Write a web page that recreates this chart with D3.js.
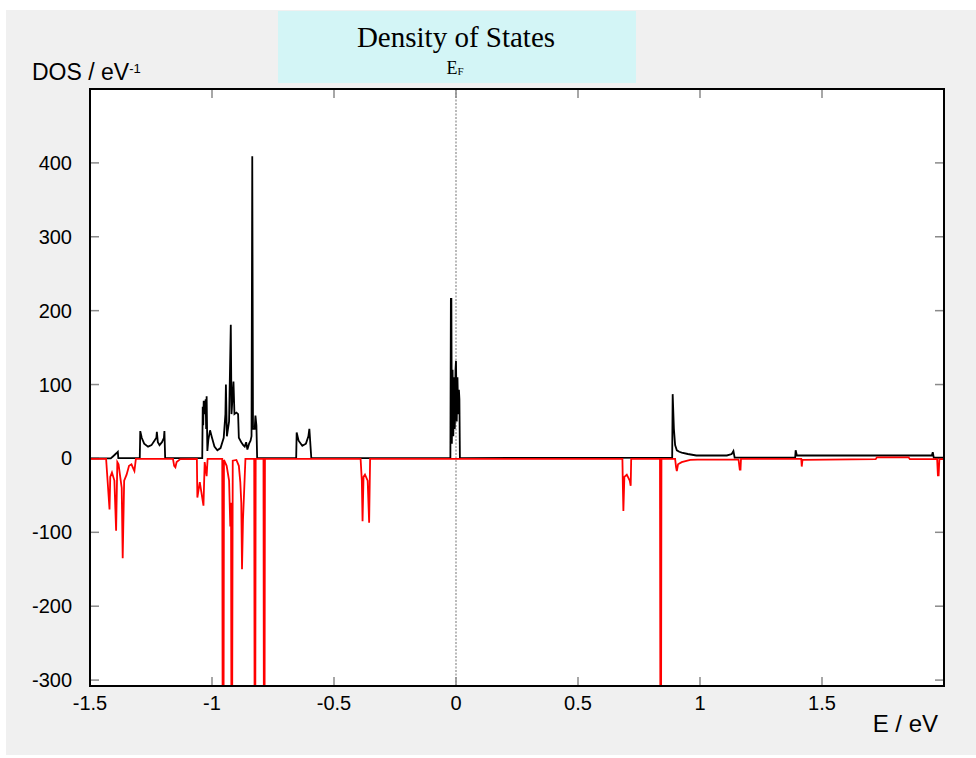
<!doctype html>
<meta charset='utf-8'>
<style>
  body { margin: 0; background: #fff; }
  text { font-family: 'Liberation Sans', Arial, sans-serif; }
</style>
<body>
<script src='https://cdn.jsdelivr.net/npm/d3@7/dist/d3.min.js'></script>
<script>

// spin-up DOS (black, positive)
var upE = [-1.500, -1.415, -1.405, -1.392, -1.386, -1.384,
  -1.296, -1.294, -1.288, -1.278, -1.262, -1.248, -1.236, -1.228, -1.226, -1.222, -1.215, -1.205, -1.197, -1.195, -1.192,
  -1.040, -1.038, -1.036, -1.034, -1.030, -1.026, -1.024, -1.022, -1.019, -1.015, -1.008, -1.000, -0.990, -0.978, -0.965, -0.952, -0.945,
  -0.943, -0.939, -0.930, -0.923, -0.920, -0.912, -0.908, -0.900, -0.893, -0.890, -0.880, -0.872, -0.866, -0.860, -0.855,
  -0.848, -0.842, -0.838, -0.835, -0.832, -0.825, -0.822, -0.818, -0.815,
  -0.655, -0.653, -0.645, -0.630, -0.615, -0.605, -0.601, -0.593,
  -0.023, -0.021, -0.019, -0.017, -0.014, -0.011, -0.008, -0.005, -0.002, 0.000, 0.003, 0.006, 0.009, 0.012, 0.014, 0.016,
  0.886, 0.888, 0.893, 0.898, 0.905, 0.915, 0.925, 0.950, 0.985, 1.050, 1.110, 1.130, 1.137, 1.142,
  1.390, 1.392, 1.397, 1.950, 1.954, 1.958, 2.000];
var upDos = [0, 0, 3, 7, 9, 0.5,
  0.5, 37, 28, 20, 16, 18, 24, 28, 36, 22, 18, 22, 28, 37, 0.5,
  0.5, 70, 45, 78, 60, 80, 40, 84, 10, 25, 38, 28, 16, 11, 14, 28, 60,
  100, 30, 50, 181, 60, 104, 60, 62, 60, 28, 22, 18, 16, 22, 12,
  20, 24, 30, 409, 40, 40, 58, 45, 0.5,
  0.5, 35, 24, 17, 20, 30, 40, 0.5,
  0.5, 216, 216, 20, 120, 30, 110, 40, 120, 132, 50, 110, 60, 93, 80, 0.5,
  1, 87, 40, 18, 11, 9, 8, 6, 4, 4, 4, 6, 10, 1,
  1, 11, 4, 4, 8.5, 1, 1];

// spin-down DOS (red, negative)
var dnE = [-1.500, -1.434, -1.430, -1.420, -1.417, -1.410, -1.400, -1.393, -1.388, -1.383, -1.370, -1.366, -1.360, -1.350,
  -1.340, -1.330, -1.322, -1.318, -1.312,
  -1.160, -1.155, -1.150, -1.145, -1.130,
  -1.062, -1.060, -1.050, -1.035, -1.030, -1.022, -1.018,
  -0.958, -0.956, -0.953, -0.951, -0.940, -0.930, -0.925, -0.922, -0.920, -0.918, -0.915, -0.900, -0.890, -0.884, -0.880,
  -0.877, -0.873, -0.868, -0.863, -0.827, -0.825, -0.823, -0.821, -0.789, -0.787, -0.785, -0.783,
  -0.391, -0.386, -0.383, -0.379, -0.373, -0.362, -0.356, -0.352,
  0.682, 0.684, 0.686, 0.690, 0.700, 0.712, 0.716, 0.718,
  0.836, 0.838, 0.840, 0.842,
  0.898, 0.902, 0.905, 0.910, 0.925, 0.960, 0.990, 1.158, 1.163, 1.166, 1.168,
  1.415, 1.417, 1.420, 1.720, 1.725, 1.855, 1.860, 1.972, 1.975, 1.978, 1.981, 2.000];
var dnDos = [-0.5, -0.5, -20, -69, -25, -19, -30, -98, -5, -8, -40, -135, -30, -22,
  -10, -8, -14, -17, -0.5,
  -0.5, -10, -12, -5, -1,
  -0.5, -53, -32, -64, -5, -24, -0.5,
  -0.5, -450, -450, -2, -10, -30, -92, -60, -450, -450, -3, -2, -10, -32, -60,
  -150, -83, -42, -0.5, -0.5, -450, -450, -0.5, -0.5, -450, -450, -0.5,
  -0.5, -30, -85, -25, -22, -30, -87, -0.5,
  -0.5, -40, -71, -25, -22, -30, -37, -0.5,
  -0.5, -450, -450, -0.5,
  -0.5, -12, -17, -8, -5, -2, -1.5, -1.5, -15, -15, -0.5,
  -0.5, -11, -2, -1, 1.5, 1.5, -1, -1, -23, -23, -1, -1];

var xTicks = [-1.5, -1, -0.5, 0, 0.5, 1, 1.5];
var yTicks = [-300, -200, -100, 0, 100, 200, 300, 400];

var W = 976, H = 758;
var plot = {left: 90, right: 944, top: 89, bottom: 686};

var svg = d3.select('body').append('svg')
    .attr('width', W)
    .attr('height', H);

// grey page panel
svg.append('rect')
    .attr('x', 6).attr('y', 10)
    .attr('width', W - 6).attr('height', H - 13)
    .attr('fill', '#f0f0f0');

// title box
svg.append('rect')
    .attr('x', 278).attr('y', 11)
    .attr('width', 358).attr('height', 72)
    .attr('fill', '#d3f5f6');

svg.append('text')
    .attr('x', 456).attr('y', 47)
    .attr('text-anchor', 'middle')
    .style('font-family', "'Liberation Serif', 'Times New Roman', serif")
    .style('font-size', '29px')
    .text('Density of States');

var ef = svg.append('text')
    .attr('x', 455).attr('y', 74)
    .attr('text-anchor', 'middle')
    .style('font-family', "'Liberation Serif', 'Times New Roman', serif")
    .style('font-size', '18px');
ef.append('tspan').text('E');
ef.append('tspan').attr('dy', 1).style('font-size', '11px').text('F');

var x = d3.scaleLinear().domain([-1.5, 2.0]).range([plot.left, plot.right]);
var y = d3.scaleLinear().domain([-308, 500]).range([plot.bottom, plot.top]);

svg.append('rect')
    .attr('x', plot.left).attr('y', plot.top)
    .attr('width', plot.right - plot.left).attr('height', plot.bottom - plot.top)
    .attr('fill', '#fff');

svg.append('clipPath').attr('id', 'clip')
  .append('rect')
    .attr('x', plot.left).attr('y', plot.top)
    .attr('width', plot.right - plot.left).attr('height', plot.bottom - plot.top);

// inner ticks
var tickLen = 9;
var ticks = svg.append('g').attr('stroke', '#8a8a8a').attr('stroke-width', 1.5);
yTicks.forEach(function(v) {
  ticks.append('line').attr('x1', plot.left).attr('x2', plot.left + tickLen).attr('y1', y(v)).attr('y2', y(v));
  ticks.append('line').attr('x1', plot.right - tickLen).attr('x2', plot.right).attr('y1', y(v)).attr('y2', y(v));
});
xTicks.forEach(function(v) {
  ticks.append('line').attr('x1', x(v)).attr('x2', x(v)).attr('y1', plot.bottom).attr('y2', plot.bottom - tickLen);
  ticks.append('line').attr('x1', x(v)).attr('x2', x(v)).attr('y1', plot.top).attr('y2', plot.top + tickLen);
});

// Fermi level
svg.append('line')
    .attr('x1', x(0)).attr('x2', x(0))
    .attr('y1', plot.top).attr('y2', plot.bottom)
    .attr('stroke', '#8c8c8c')
    .attr('stroke-width', 1.2)
    .attr('stroke-dasharray', '2,1.5');

var upData = upE.map(function(e, i) { return [e, upDos[i]]; });
var dnData = dnE.map(function(e, i) { return [e, dnDos[i]]; });

var line = d3.line()
    .x(function(d) { return x(d[0]); })
    .y(function(d) { return y(d[1]); });

var g = svg.append('g').attr('clip-path', 'url(#clip)');

g.append('path').datum(upData)
    .attr('d', line)
    .attr('fill', 'none')
    .attr('stroke', '#000')
    .attr('stroke-width', 1.8);

g.append('path').datum(dnData)
    .attr('d', line)
    .attr('fill', 'none')
    .attr('stroke', '#ff0000')
    .attr('stroke-width', 1.8);

// frame
svg.append('rect')
    .attr('x', plot.left).attr('y', plot.top)
    .attr('width', plot.right - plot.left).attr('height', plot.bottom - plot.top)
    .attr('fill', 'none')
    .attr('stroke', '#000')
    .attr('stroke-width', 2);

// tick labels
svg.append('g').selectAll('text')
    .data(yTicks).enter().append('text')
    .attr('x', 72)
    .attr('y', function(d) { return y(d) + 7; })
    .attr('text-anchor', 'end')
    .style('font-size', '20px')
    .text(function(d) { return d; });

svg.append('g').selectAll('text')
    .data(xTicks).enter().append('text')
    .attr('x', function(d) { return x(d); })
    .attr('y', 710)
    .attr('text-anchor', 'middle')
    .style('font-size', '20px')
    .text(function(d) { return d; });

// axis titles
var yl = svg.append('text')
    .attr('x', 32).attr('y', 80)
    .style('font-size', '23px');
yl.append('tspan').text('DOS / eV');
yl.append('tspan').attr('dy', -7).style('font-size', '13px').text('-1');

svg.append('text')
    .attr('x', 938).attr('y', 732)
    .attr('text-anchor', 'end')
    .style('font-size', '24px')
    .text('E / eV');

</script>
</body>
